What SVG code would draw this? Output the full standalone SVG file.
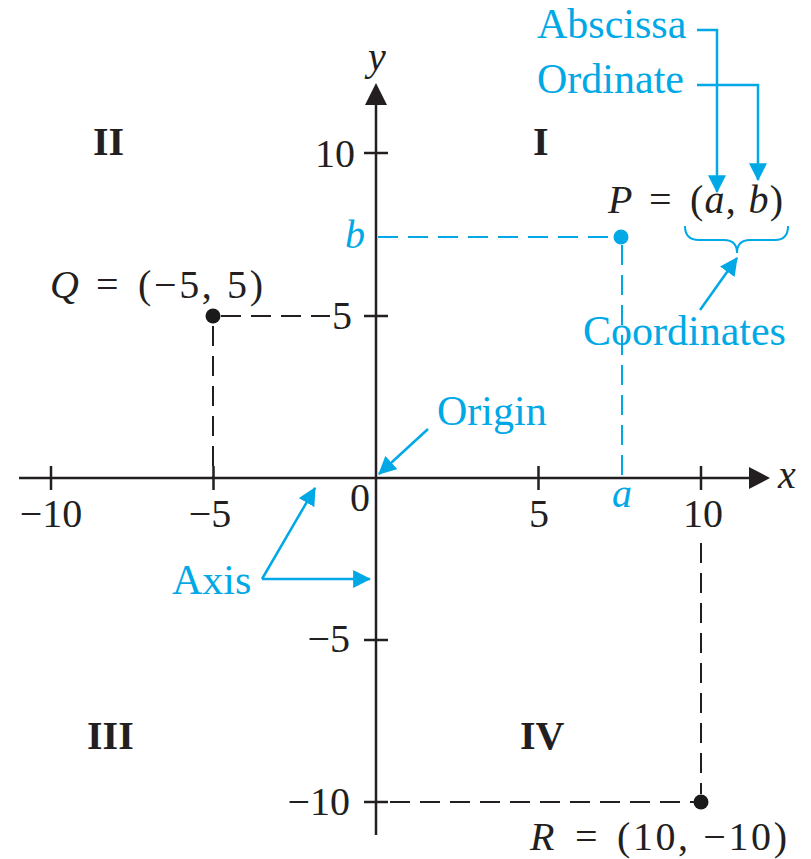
<svg xmlns="http://www.w3.org/2000/svg" width="811" height="859" viewBox="0 0 811 859">
<style>
  text { font-family: "Liberation Serif", "Times New Roman", serif; font-size: 40px; fill: #231F20; }
  .blue { fill: #00A9E6; }
  .lbl { font-size: 42px; }
  .it { font-style: italic; }
  .bold { font-weight: bold; }
  .axis { stroke: #231F20; stroke-width: 2.5; fill: none; }
  .dash { stroke: #231F20; stroke-width: 2; stroke-dasharray: 20 10; fill: none; }
  .dashb { stroke: #00A9E6; stroke-width: 2; stroke-dasharray: 20 10; fill: none; }
  .ann { stroke: #00A9E6; stroke-width: 2.5; fill: none; marker-end: url(#ah); }
</style>
<defs>
  <marker id="ah" markerUnits="userSpaceOnUse" markerWidth="18" markerHeight="18" viewBox="0 0 16 16" refX="15" refY="8" orient="auto">
    <path d="M0,0 L16,8 L0,16 z" fill="#00A9E6"/>
  </marker>
</defs>
<rect width="811" height="859" fill="#ffffff"/>

<g id="axes">
  <line class="axis" x1="19" y1="478" x2="752" y2="478"/>
  <polygon points="770,478 749,467 749,489" fill="#231F20"/>
  <line class="axis" x1="376" y1="835" x2="376" y2="102"/>
  <polygon points="376,83 365,105 387,105" fill="#231F20"/>
  <text class="it" x="377" y="70" text-anchor="middle">y</text>
  <text class="it" x="778" y="488">x</text>
  <g id="ticks" class="axis">
    <line x1="51" y1="466" x2="51" y2="490"/>
    <line x1="213.5" y1="466" x2="213.5" y2="490"/>
    <line x1="538.5" y1="466" x2="538.5" y2="490"/>
    <line x1="701" y1="466" x2="701" y2="490"/>
    <line x1="364" y1="153" x2="388" y2="153"/>
    <line x1="364" y1="316" x2="388" y2="316"/>
    <line x1="364" y1="640" x2="388" y2="640"/>
    <line x1="364" y1="802" x2="388" y2="802"/>
  </g>
  <g id="tick-labels">
    <text x="51" y="527" text-anchor="middle">−10</text>
    <text x="210" y="527" text-anchor="middle">−5</text>
    <text x="350" y="511">0</text>
    <text x="539" y="527" text-anchor="middle">5</text>
    <text x="703" y="527" text-anchor="middle">10</text>
    <text x="355" y="167" text-anchor="end">10</text>
    <text x="352" y="329" text-anchor="end">5</text>
    <text x="350" y="652" text-anchor="end">−5</text>
    <text x="350" y="815" text-anchor="end">−10</text>
    <text class="blue it" x="622" y="507" text-anchor="middle">a</text>
    <text class="blue it" x="365" y="248" text-anchor="end">b</text>
  </g>
</g>

<g id="quadrants">
  <text class="bold" x="93" y="155">II</text>
  <text class="bold" x="533" y="155">I</text>
  <text class="bold" x="87" y="749">III</text>
  <text class="bold" x="520" y="749">IV</text>
</g>

<g id="connectors">
  <line class="dashb" x1="378" y1="237" x2="614" y2="237"/>
  <line class="dashb" x1="622" y1="245" x2="622" y2="478"/>
  <line class="dash" x1="221" y1="316" x2="330" y2="316"/>
  <line class="dash" x1="213" y1="326" x2="213" y2="478"/>
  <line class="dash" x1="701" y1="543" x2="701" y2="794"/>
  <line class="dash" x1="390" y1="802" x2="694" y2="802"/>
  <path class="ann" d="M697,30 H717 V192"/>
  <path class="ann" d="M697,85 H758 V180"/>
  <path class="ann" d="M700,310 L737,258"/>
  <path class="ann" d="M428,429 L379,474"/>
  <path class="ann" d="M262,579 L315,488"/>
  <path class="ann" d="M262,579 L370,579"/>
  <path d="M685,226 Q685,240 699,240 L724,240 Q737,240 737,253 Q737,240 750,240 L775,240 Q788,240 788,226" stroke="#00A9E6" stroke-width="2" fill="none"/>
</g>

<g id="point-P">
  <circle cx="621" cy="237" r="7.5" fill="#00A9E6"/>
  <text class="it" x="608" y="213">P</text>
  <text x="649" y="213">=</text>
  <text x="690" y="213" textLength="93" lengthAdjust="spacing">(<tspan class="it">a</tspan>, <tspan class="it">b</tspan>)</text>
</g>

<g id="point-Q">
  <circle cx="213" cy="316" r="7.5" fill="#1a1a1a"/>
  <text class="it" x="50" y="298">Q</text>
  <text x="96" y="298">=</text>
  <text x="138" y="298" textLength="125" lengthAdjust="spacing">(−5, 5)</text>
</g>

<g id="point-R">
  <circle cx="701" cy="802" r="7.5" fill="#1a1a1a"/>
  <text class="it" x="530" y="850">R</text>
  <text x="575" y="850">=</text>
  <text x="617" y="850" textLength="170" lengthAdjust="spacing">(10, −10)</text>
</g>

<g id="labels">
  <text class="blue lbl" x="537" y="38">Abscissa</text>
  <text class="blue lbl" x="537" y="93">Ordinate</text>
  <text class="blue lbl" x="583" y="345">Coordinates</text>
  <text class="blue lbl" x="437" y="425">Origin</text>
  <text class="blue lbl" x="172" y="594">Axis</text>
</g>
</svg>
